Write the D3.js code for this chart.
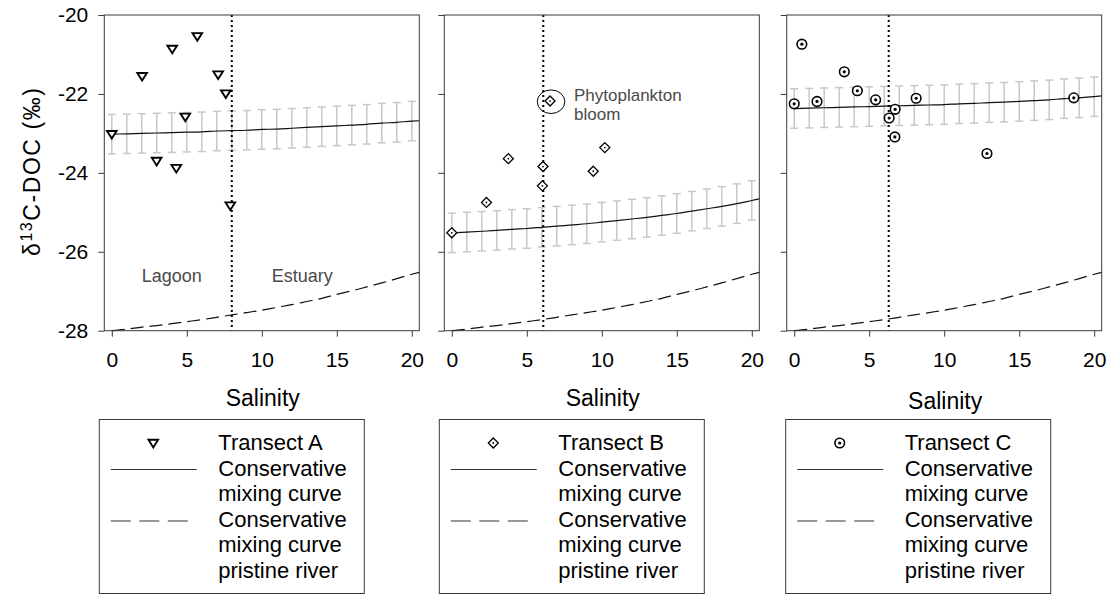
<!DOCTYPE html>
<html>
<head>
<meta charset="utf-8">
<script src="https://cdn.jsdelivr.net/npm/d3@7"></script>
<style>
  html, body { margin: 0; padding: 0; background: #fff; }
  svg { display: block; font-family: Arial, "Liberation Sans", sans-serif; }
</style>
</head>
<body>
<svg id="chart" width="1111" height="595"></svg>
<script>
// Salinity grid of the conservative mixing curves (error bars drawn at whole units)
const mixSalinity = [0,1,2,3,4,5,6,7,8,9,10,11,12,13,14,15,16,17,18,19,20,20.5];
const mixErr = 0.5;

// Conservative mixing curves, δ13C-DOC (‰)
const mixA = [-23.02,-23.01,-23.00,-22.99,-22.98,-22.97,-22.96,-22.94,-22.93,-22.92,-22.90,-22.89,-22.87,-22.85,-22.83,-22.81,-22.79,-22.77,-22.74,-22.72,-22.69,-22.68];
const mixB = [-25.52,-25.50,-25.48,-25.46,-25.43,-25.41,-25.38,-25.35,-25.32,-25.29,-25.25,-25.21,-25.17,-25.13,-25.08,-25.03,-24.97,-24.91,-24.85,-24.78,-24.70,-24.66];
const mixC = [-22.37,-22.36,-22.35,-22.34,-22.33,-22.32,-22.31,-22.30,-22.29,-22.28,-22.27,-22.25,-22.24,-22.22,-22.21,-22.19,-22.17,-22.15,-22.12,-22.10,-22.07,-22.05];
// Conservative mixing curve for the pristine river
const pristine = [-28.00,-27.96,-27.91,-27.87,-27.82,-27.77,-27.72,-27.66,-27.60,-27.54,-27.48,-27.41,-27.34,-27.26,-27.18,-27.08,-26.99,-26.89,-26.79,-26.68,-26.57,-26.52];

// Measured samples per transect
const salA = [0, 2.02, 2.99, 4.03, 4.3, 4.9, 5.7, 7.09, 7.6, 7.9];
const d13A = [-23.02, -21.55, -23.70, -20.86, -23.88, -22.58, -20.54, -21.51, -21.99, -24.83];
const salB = [0, 2.31, 3.77, 6.08, 6.04, 6.55, 9.43, 10.2];
const d13B = [-25.52, -24.75, -23.64, -23.84, -24.33, -22.18, -23.96, -23.36];
const salC = [0, 0.51, 1.52, 3.34, 4.21, 5.43, 6.33, 6.73, 6.71, 8.13, 12.85, 18.64];
const d13C = [-22.25, -20.74, -22.19, -21.44, -21.92, -22.15, -22.61, -22.39, -23.09, -22.11, -23.51, -22.10];

// Salinity boundary between lagoon and estuary in each transect
const boundaries = [8.0, 6.1, 6.3];

const xTicks = [0, 5, 10, 15, 20];
const yTicks = [-20, -22, -24, -26, -28];
const transectNames = ["Transect A", "Transect B", "Transect C"];
const legendLines = ["Conservative", "mixing curve", "Conservative", "mixing curve", "pristine river"];

const svg = d3.select("#chart");
const axisColor = "#3a3a3a";
const plotTop = 15, plotBottom = 330.7;
const panelLefts = [104.3, 444.3, 786.7];
const panelWidth = 315;
const legendLefts = [99.3, 439.3, 785.7];
const fontStack = "Arial, 'Liberation Sans', sans-serif";

const y = d3.scaleLinear().domain([-28, -20]).range([plotBottom, plotTop]);

// marker shapes
function drawMarker(g, kind, cx, cy) {
  if (kind === "tri") {
    g.append("path")
      .attr("d", `M${cx-4.8},${cy-3.2}L${cx+4.8},${cy-3.2}L${cx},${cy+4.4}Z`)
      .attr("fill", "#fff").attr("stroke", "#000").attr("stroke-width", 1.9)
      .attr("stroke-linejoin", "miter");
  } else if (kind === "dia") {
    g.append("path")
      .attr("d", `M${cx},${cy-5}L${cx+5},${cy}L${cx},${cy+5}L${cx-5},${cy}Z`)
      .attr("fill", "#fff").attr("stroke", "#000").attr("stroke-width", 1.3);
    g.append("circle").attr("cx", cx).attr("cy", cy).attr("r", 0.9).attr("fill", "#000");
  } else {
    g.append("circle").attr("cx", cx).attr("cy", cy).attr("r", 4.8)
      .attr("fill", "#fff").attr("stroke", "#000").attr("stroke-width", 1.6);
    g.append("circle").attr("cx", cx).attr("cy", cy).attr("r", 1.6).attr("fill", "#000");
  }
}

const panels = [
  { mix: mixA, sal: salA, d13: d13A, marker: "tri" },
  { mix: mixB, sal: salB, d13: d13B, marker: "dia" },
  { mix: mixC, sal: salC, d13: d13C, marker: "circ" }
];

panels.forEach((p, i) => {
  const left = panelLefts[i];
  const x = d3.scaleLinear().domain([-0.5, 20.5]).range([left, left + panelWidth]);
  const g = svg.append("g");

  // error bars on the conservative mixing curve
  const eb = g.append("g").attr("stroke", "#c8c8c8").attr("stroke-width", 1.5);
  mixSalinity.forEach((s, k) => {
    if (!Number.isInteger(s)) return;
    const xx = x(s), y0 = y(p.mix[k] + mixErr), y1 = y(p.mix[k] - mixErr);
    eb.append("line").attr("x1", xx).attr("x2", xx).attr("y1", y0).attr("y2", y1);
    eb.append("line").attr("x1", xx - 4).attr("x2", xx + 4).attr("y1", y0).attr("y2", y0);
    eb.append("line").attr("x1", xx - 4).attr("x2", xx + 4).attr("y1", y1).attr("y2", y1);
  });

  const line = d3.line().x(d => x(d[0])).y(d => y(d[1])).curve(d3.curveMonotoneX);

  g.append("path")
    .attr("d", line(mixSalinity.map((s, k) => [s, p.mix[k]])))
    .attr("fill", "none").attr("stroke", "#111").attr("stroke-width", 1.2);

  g.append("path")
    .attr("d", line(mixSalinity.map((s, k) => [s, pristine[k]])))
    .attr("fill", "none").attr("stroke", "#111").attr("stroke-width", 1.2)
    .attr("stroke-dasharray", "13,6");

  // lagoon / estuary boundary
  g.append("line")
    .attr("x1", x(boundaries[i])).attr("x2", x(boundaries[i]))
    .attr("y1", plotTop).attr("y2", plotBottom)
    .attr("stroke", "#000").attr("stroke-width", 2).attr("stroke-dasharray", "2,3");

  // samples
  const mg = g.append("g");
  p.sal.forEach((s, k) => drawMarker(mg, p.marker, x(s), y(p.d13[k])));

  // frame
  g.append("rect")
    .attr("x", left).attr("y", plotTop).attr("width", panelWidth).attr("height", plotBottom - plotTop)
    .attr("fill", "none").attr("stroke", axisColor).attr("stroke-width", 1);

  // x axis
  const xAxis = g.append("g").attr("transform", `translate(0,${plotBottom})`)
    .call(d3.axisBottom(x).tickValues(xTicks).tickFormat(d => String(d))
      .tickSize(6).tickSizeOuter(0).tickPadding(15));
  xAxis.select(".domain").remove();
  xAxis.selectAll("line").attr("stroke", axisColor);
  xAxis.selectAll("text").attr("font-size", 21).attr("fill", "#000").attr("font-family", fontStack);

  // y axis
  const yAxis = g.append("g").attr("transform", `translate(${left},0)`)
    .call(d3.axisLeft(y).tickValues(yTicks).tickFormat(d => String(d))
      .tickSize(6).tickSizeOuter(0).tickPadding(10));
  yAxis.select(".domain").remove();
  yAxis.selectAll("line").attr("stroke", axisColor);
  yAxis.selectAll("text").attr("font-size", 21).attr("fill", "#000").attr("font-family", fontStack);
  if (i > 0) yAxis.selectAll("text").remove();

  // x axis title
  g.append("text")
    .attr("x", left + panelWidth / 2 + 1).attr("y", i === 2 ? 409 : 406)
    .attr("text-anchor", "middle").attr("font-size", 23).attr("fill", "#000")
    .text("Salinity");

  // legend
  const lx = legendLefts[i];
  const lg = svg.append("g");
  lg.append("rect").attr("x", lx).attr("y", 419.5).attr("width", 265).attr("height", 174)
    .attr("fill", "#fff").attr("stroke", axisColor).attr("stroke-width", 1);
  drawMarker(lg, p.marker, lx + 54, 443);
  lg.append("line").attr("x1", lx + 11.5).attr("x2", lx + 97.5).attr("y1", 469.5).attr("y2", 469.5)
    .attr("stroke", "#333").attr("stroke-width", 1.2);
  lg.append("line").attr("x1", lx + 11.5).attr("x2", lx + 89).attr("y1", 521).attr("y2", 521)
    .attr("stroke", "#333").attr("stroke-width", 1.2).attr("stroke-dasharray", "20,8.5");
  const rows = [transectNames[i]].concat(legendLines);
  rows.forEach((t, r) => {
    lg.append("text").attr("x", lx + 119).attr("y", 450 + r * 25.6)
      .attr("font-size", 22).attr("fill", "#000").text(t);
  });
});

// y axis title with superscript isotope mass
const yt = svg.append("text")
  .attr("transform", "translate(40,172) rotate(-90)")
  .attr("text-anchor", "middle").attr("font-size", 23).attr("fill", "#000")
  .attr("textLength", 168).attr("lengthAdjust", "spacing");
yt.append("tspan").text("δ");
yt.append("tspan").attr("font-size", 16).attr("dy", -8).text("13");
yt.append("tspan").attr("dy", 8).text("C-DOC (‰)");

// annotations
const xA = d3.scaleLinear().domain([-0.5, 20.5]).range([panelLefts[0], panelLefts[0] + panelWidth]);
const xB = d3.scaleLinear().domain([-0.5, 20.5]).range([panelLefts[1], panelLefts[1] + panelWidth]);
svg.append("text").attr("x", xA(4)).attr("y", 282).attr("text-anchor", "middle")
  .attr("font-size", 18).attr("fill", "#4a4a4a").text("Lagoon");
svg.append("text").attr("x", xA(12.7)).attr("y", 282).attr("text-anchor", "middle")
  .attr("font-size", 18).attr("fill", "#4a4a4a").text("Estuary");

// bloom sample highlighted with an ellipse
svg.append("ellipse").attr("cx", xB(salB[5]) + 1).attr("cy", y(d13B[5]) + 0.7)
  .attr("rx", 13.8).attr("ry", 11.8).attr("fill", "none").attr("stroke", "#000").attr("stroke-width", 1);
const bt = svg.append("text").attr("x", 574).attr("y", 101).attr("font-size", 17).attr("fill", "#4a4a4a");
bt.append("tspan").attr("x", 574).text("Phytoplankton");
bt.append("tspan").attr("x", 574).attr("dy", 19).text("bloom");
</script>
</body>
</html>
